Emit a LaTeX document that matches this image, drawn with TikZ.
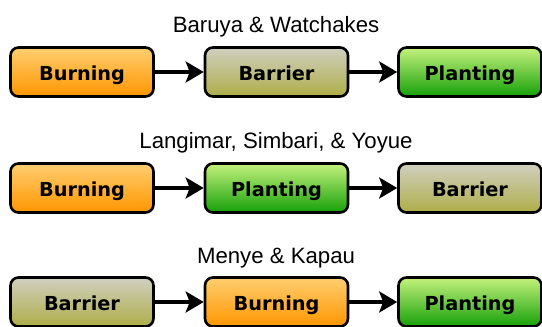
\documentclass[tikz,border=0pt]{standalone}
\usepackage{fontspec}
\setmainfont{Liberation Sans}
\newfontfamily\labelfont{DejaVu Sans}[BoldFont={DejaVu Sans Bold}]
\usetikzlibrary{arrows.meta}
\definecolor{burnTop}{RGB}{255,206,112}
\definecolor{burnBot}{RGB}{255,150,0}
\definecolor{barTop}{RGB}{208,207,192}
\definecolor{barBot}{RGB}{174,174,72}
\definecolor{plantTop}{RGB}{196,242,124}
\definecolor{plantBot}{RGB}{22,160,10}
\tikzset{
  stage/.style={draw=black, line width=2.6pt, rounded corners=8pt,
    minimum width=143pt, minimum height=49pt, inner sep=0pt,
    text height=16pt, text depth=0pt,
    font=\labelfont\fontsize{19.3}{22}\selectfont\bfseries},
  burning/.style={stage, top color=burnTop, bottom color=burnBot},
  barrier/.style={stage, top color=barTop, bottom color=barBot},
  planting/.style={stage, top color=plantTop, bottom color=plantBot},
  heading/.style={font=\fontsize{22.2}{24}\selectfont, anchor=base, inner sep=0pt},
  flow/.style={line width=4.5pt, -{Stealth[length=18pt, width=21pt, inset=4pt]}}
}
\begin{document}
\begin{tikzpicture}[x=1pt, y=-1pt]
\useasboundingbox (0,0) rectangle (542,327);
\fill[white] (0,0) rectangle (542,327);

% Sequence 1
\node[heading] (t1) at (276,32) {Baruya \& Watchakes};
\node[burning]  (a1) at (82,72)    {Burning};
\node[barrier]  (b1) at (276.5,72) {Barrier};
\node[planting] (c1) at (470,72)   {Planting};
\draw[flow] (a1) -- (b1);
\draw[flow] (b1) -- (c1);

% Sequence 2
\node[heading] (t2) at (276,148) {Langimar, Simbari, \& Yoyue};
\node[burning]  (a2) at (82,188)    {Burning};
\node[planting] (b2) at (276.5,188) {Planting};
\node[barrier]  (c2) at (470,188)   {Barrier};
\draw[flow] (a2) -- (b2);
\draw[flow] (b2) -- (c2);

% Sequence 3
\node[heading] (t3) at (276,263) {Menye \& Kapau};
\node[barrier]  (a3) at (82,302)    {Barrier};
\node[burning]  (b3) at (276.5,302) {Burning};
\node[planting] (c3) at (470,302)   {Planting};
\draw[flow] (a3) -- (b3);
\draw[flow] (b3) -- (c3);
\end{tikzpicture}
\end{document}
